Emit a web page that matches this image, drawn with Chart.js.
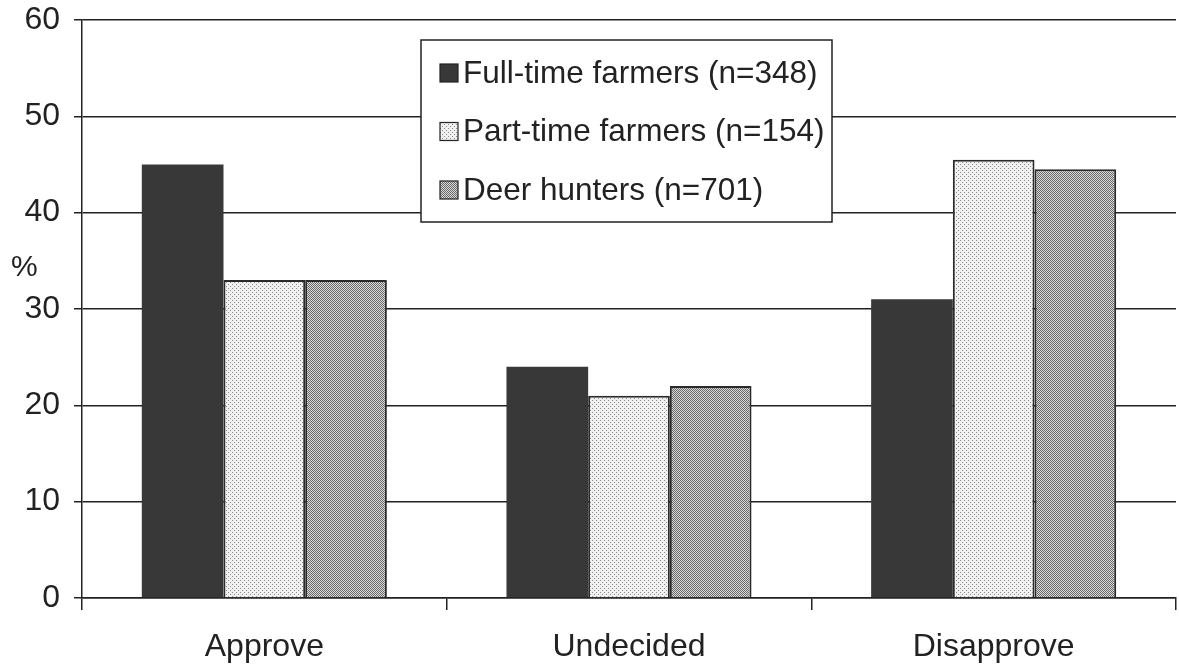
<!DOCTYPE html>
<html>
<head>
<meta charset="utf-8">
<script src="https://cdn.jsdelivr.net/npm/chart.js@4.4.1/dist/chart.umd.min.js"></script>
<style>
html,body{margin:0;padding:0;background:#fff;}
#wrap{width:1179px;height:667px;position:relative;}
</style>
</head>
<body>
<div id="wrap"><canvas id="c" width="1179" height="667"></canvas></div>
<script>
const categories = ['Approve', 'Undecided', 'Disapprove'];
const seriesLabels = ['Full-time farmers (n=348)', 'Part-time farmers (n=154)', 'Deer hunters (n=701)'];
const fullTime = [45, 24, 31];
const partTime = [33, 21, 45.5];
const deerHunters = [33, 22, 44.5];
const yTicks = [0, 10, 20, 30, 40, 50, 60];
const yAxisTitle = '%';

const INK = '#222222';

function makePattern(base, dot, cells, size) {
  const c = document.createElement('canvas');
  c.width = size; c.height = size;
  const g = c.getContext('2d');
  g.fillStyle = base; g.fillRect(0, 0, size, size);
  g.fillStyle = dot;
  cells.forEach(p => g.fillRect(p[0], p[1], 1, 1));
  return g.createPattern(c, 'repeat');
}
const ctx = document.getElementById('c').getContext('2d');
const lightPat = makePattern('#f0f0f0', '#8c8c8c', [[0,0],[2,2]], 4);
const densePat = makePattern('#d8d8d8', '#6a6a6a', [[0,0],[2,0],[1,1],[3,1],[0,2],[2,2],[1,3],[3,3]], 4);

const legendInside = {
  id: 'legendInside',
  afterDatasetsDraw(chart, args, opts) {
    const g = chart.ctx;
    g.save();
    g.fillStyle = '#ffffff';
    g.fillRect(opts.x, opts.y, opts.w, opts.h);
    g.strokeStyle = INK; g.lineWidth = 1.5;
    g.strokeRect(opts.x, opts.y, opts.w, opts.h);
    g.font = opts.font;
    g.textBaseline = 'middle';
    g.textAlign = 'left';
    chart.data.datasets.forEach((ds, i) => {
      const cy = opts.y + opts.firstRow + i * opts.rowGap;
      const sx = opts.x + opts.swatchX;
      const s = opts.swatch;
      g.fillStyle = ds.backgroundColor;
      g.fillRect(sx, cy - s / 2, s, s);
      g.strokeStyle = INK; g.lineWidth = 1.2;
      g.strokeRect(sx, cy - s / 2, s, s);
      g.fillStyle = INK;
      g.fillText(ds.label, sx + s + 5, cy + 1);
    });
    g.restore();
  }
};

const yTitlePlugin = {
  id: 'yTitlePlugin',
  afterDraw(chart, args, opts) {
    const g = chart.ctx;
    const y = chart.scales.y;
    g.save();
    g.font = opts.font;
    g.fillStyle = INK;
    g.textAlign = 'left';
    g.textBaseline = 'middle';
    g.fillText(yAxisTitle, opts.x, y.getPixelForValue(opts.atValue));
    g.restore();
  }
};

new Chart(ctx, {
  type: 'bar',
  data: {
    labels: categories,
    datasets: [
      { label: seriesLabels[0], data: fullTime, backgroundColor: '#383838', borderColor: '#383838', borderWidth: 0 },
      { label: seriesLabels[1], data: partTime, backgroundColor: lightPat, borderColor: '#2a2a2a', borderWidth: 2 },
      { label: seriesLabels[2], data: deerHunters, backgroundColor: densePat, borderColor: '#2a2a2a', borderWidth: 2 }
    ]
  },
  options: {
    responsive: false,
    animation: false,
    devicePixelRatio: 1,
    layout: { padding: { top: 20, right: 3, left: 0, bottom: 0 } },
    datasets: { bar: { categoryPercentage: 0.672, barPercentage: 1.0, borderSkipped: 'bottom' } },
    plugins: {
      legend: { display: false },
      tooltip: { enabled: false },
      legendInside: { x: 421, y: 40, w: 411, h: 182, firstRow: 33, rowGap: 58.5, swatchX: 19, swatch: 18,
        font: '31.5px "Liberation Sans", Arial, sans-serif' },
      yTitlePlugin: { x: 11, atValue: 34.3, font: '30px "Liberation Sans", Arial, sans-serif' }
    },
    scales: {
      x: {
        offset: true,
        grid: { offset: true, drawOnChartArea: false, drawTicks: true, tickLength: 12, color: INK, lineWidth: 1.5 },
        border: { display: true, color: INK, width: 1.5 },
        ticks: { color: INK, padding: 18, font: { family: '"Liberation Sans", Arial, sans-serif', size: 32 } },
        afterFit(scale) { scale.height = 69; scale.paddingLeft = 0; scale.paddingRight = 0; }
      },
      y: {
        min: 0, max: 60,
        afterBuildTicks(scale) { scale.ticks = yTicks.map(v => ({ value: v })); },
        grid: { color: INK, lineWidth: 1.5, drawTicks: true, tickLength: 8 },
        border: { display: true, color: INK, width: 1.5 },
        ticks: { color: INK, padding: 14, font: { family: '"Liberation Sans", Arial, sans-serif', size: 32 } },
        afterFit(scale) { scale.width = 82; scale.paddingTop = 0; scale.paddingBottom = 0; }
      }
    }
  },
  plugins: [legendInside, yTitlePlugin]
});
</script>
</body>
</html>
